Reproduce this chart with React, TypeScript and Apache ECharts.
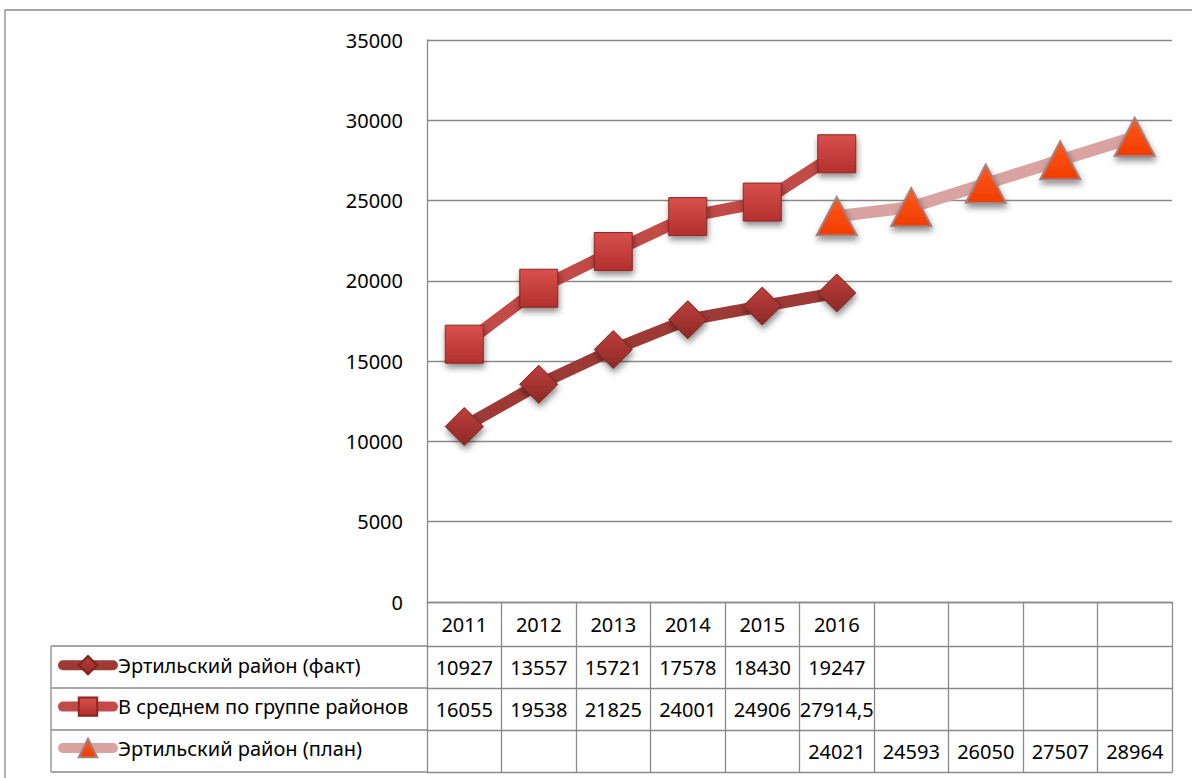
import React, { useEffect, useRef } from "react";
import * as echarts from "echarts";

const categories = ["2011", "2012", "2013", "2014", "2015", "2016", "", "", "", ""];
const factValues = [10927, 13557, 15721, 17578, 18430, 19247, null, null, null, null];
const avgValues = [16055, 19538, 21825, 24001, 24906, 27914.5, null, null, null, null];
const planValues = [null, null, null, null, null, 24021, 24593, 26050, 27507, 28964];
const seriesNames = [
  "Эртильский район (факт)",
  "В среднем по группе районов",
  "Эртильский район (план)",
];
const yMin = 0;
const yMax = 35000;
const yInterval = 5000;

const fmt = (v: number | null) => (v == null ? "" : String(v).replace(".", ","));

const FONT = "'Noto Sans', 'DejaVu Sans', sans-serif";
const GRID = "#8a8a8a";

const G_LEFT = 427;
const G_TOP = 40;
const G_W = 745;
const G_H = 562;
const LEG_LEFT = 51;
const ROW_H = [44, 42, 42, 42];

export default function App() {
  const ref = useRef<HTMLDivElement>(null);

  useEffect(() => {
    document.body.style.margin = "0";
    if (!ref.current) return;
    const chart = echarts.init(ref.current, undefined, { renderer: "svg" });

    const rowTexts = [
      categories,
      factValues.map(fmt),
      avgValues.map(fmt),
      planValues.map(fmt),
    ];
    const offsets: number[] = [];
    let acc = 0;
    for (let i = 0; i < ROW_H.length; i++) {
      offsets.push(acc);
      acc += ROW_H[i];
    }
    const tableBottomOffset = acc;

    const xAxes: any[] = rowTexts.map((texts, i) => ({
      type: "category",
      gridIndex: 0,
      position: "bottom",
      offset: offsets[i],
      data: categories,
      boundaryGap: true,
      axisLine: { show: true, lineStyle: { color: GRID, width: 1.3 } },
      axisTick: {
        show: true,
        interval: 0,
        length: ROW_H[i],
        lineStyle: { color: GRID, width: 1.3 },
      },
      axisLabel: {
        show: true,
        interval: 0,
        margin: i === 0 ? 12 : 11,
        color: "#000",
        fontSize: 20,
        fontFamily: FONT,
        formatter: (_v: string, idx: number) => texts[idx],
      },
      splitLine: { show: false },
    }));
    xAxes.push({
      type: "category",
      gridIndex: 0,
      position: "bottom",
      offset: tableBottomOffset,
      data: categories,
      axisLine: { show: true, lineStyle: { color: GRID, width: 1.3 } },
      axisTick: { show: false },
      axisLabel: { show: false },
    });

    const shadow = {
      shadowColor: "rgba(0,0,0,0.45)",
      shadowBlur: 6,
      shadowOffsetX: 1,
      shadowOffsetY: 4,
    };

    const grad = (a: string, b: string) =>
      new echarts.graphic.LinearGradient(0, 0, 0, 1, [
        { offset: 0, color: a },
        { offset: 1, color: b },
      ]);

    const legendLines: any[] = [];
    let y = G_TOP + G_H + ROW_H[0];
    const ys = [y];
    for (let i = 1; i < ROW_H.length; i++) {
      y += ROW_H[i];
      ys.push(y);
    }
    ys.forEach((yy) =>
      legendLines.push({
        type: "line",
        shape: { x1: LEG_LEFT, y1: yy, x2: G_LEFT, y2: yy },
        style: { stroke: GRID, lineWidth: 1.3 },
      })
    );
    legendLines.push({
      type: "line",
      shape: { x1: LEG_LEFT, y1: ys[0], x2: LEG_LEFT, y2: ys[ys.length - 1] },
      style: { stroke: GRID, lineWidth: 1.3 },
    });

    chart.setOption({
      animation: false,
      backgroundColor: "#fff",
      grid: { left: G_LEFT, top: G_TOP, width: G_W, height: G_H, containLabel: false },
      xAxis: xAxes,
      yAxis: {
        type: "value",
        min: yMin,
        max: yMax,
        interval: yInterval,
        axisLine: { show: true, lineStyle: { color: GRID, width: 1.3 } },
        axisTick: { show: false },
        axisLabel: {
          color: "#000",
          fontSize: 20,
          fontFamily: FONT,
          margin: 24,
          formatter: (v: number) => String(v),
        },
        splitLine: { show: true, lineStyle: { color: GRID, width: 1.3 } },
      },
      legend: {
        orient: "vertical",
        left: 58,
        top: G_TOP + G_H + ROW_H[0] + 9,
        padding: 0,
        itemWidth: 50,
        itemHeight: 23,
        itemGap: 21,
        selectedMode: false,
        data: seriesNames,
        textStyle: { color: "#000", fontSize: 20, fontFamily: FONT },
        lineStyle: { width: 10, cap: "round" },
      },
      graphic: [
        {
          type: "rect",
          shape: { x: 5, y: 10, width: 1250, height: 850 },
          style: { fill: "none", stroke: GRID, lineWidth: 1.3 },
          silent: true,
        },
        ...legendLines,
      ],
      series: [
        {
          name: seriesNames[0],
          type: "line",
          data: factValues,
          symbol: "diamond",
          symbolSize: 38,
          showAllSymbol: true,
          lineStyle: { width: 12, color: "#9d3a36" },
          itemStyle: {
            color: grad("#bd3f3b", "#8c2926"),
            borderColor: "#7a2421",
            borderWidth: 1,
            ...shadow,
          },
          z: 3,
        },
        {
          name: seriesNames[1],
          type: "line",
          data: avgValues,
          symbol: "rect",
          symbolSize: 38,
          showAllSymbol: true,
          lineStyle: { width: 12, color: "#c24a47" },
          itemStyle: {
            color: grad("#d9504c", "#b2302d"),
            borderColor: "#8a2725",
            borderWidth: 1,
            ...shadow,
          },
          z: 3,
        },
        {
          name: seriesNames[2],
          type: "line",
          data: planValues,
          symbol: "triangle",
          symbolSize: [40, 38],
          showAllSymbol: true,
          lineStyle: { width: 12, color: "#d8a3a1" },
          itemStyle: {
            color: grad("#ff5a1a", "#f03c00"),
            borderColor: "#a57e7e",
            borderWidth: 2,
            ...shadow,
          },
          z: 4,
        },
      ],
    });

    return () => chart.dispose();
  }, []);

  return <div ref={ref} style={{ width: 1192, height: 778 }} />;
}
